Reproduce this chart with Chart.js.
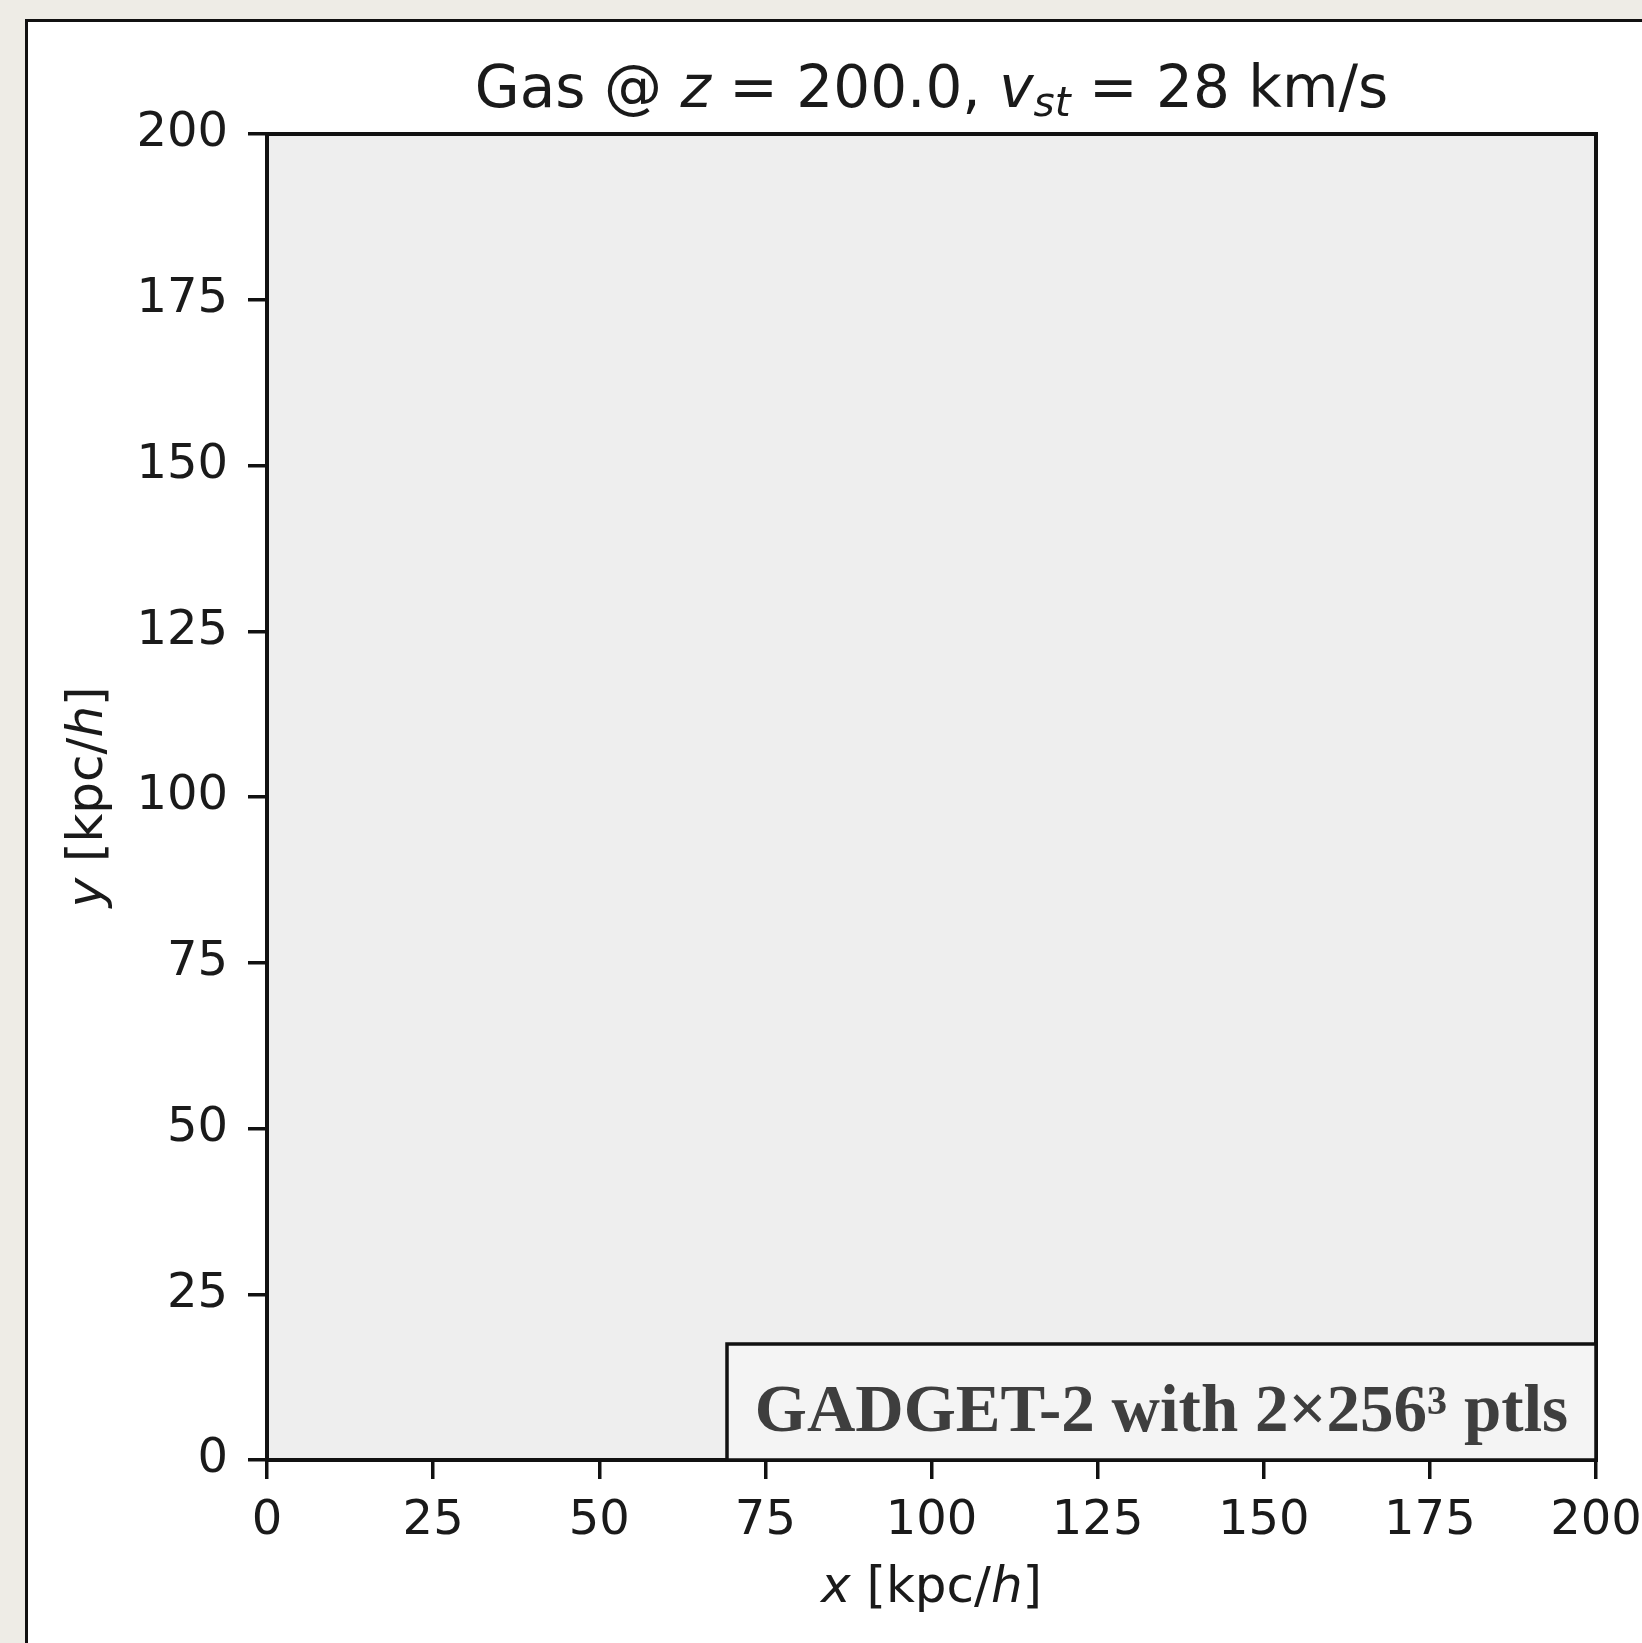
<!DOCTYPE html>
<html><head><meta charset="utf-8">
<script src="https://cdn.jsdelivr.net/npm/chart.js@4.4.1/dist/chart.umd.min.js"></script>
<style>
html,body{margin:0;padding:0;width:1642px;height:1643px;overflow:hidden;background:#eeece6;}
#panel{position:absolute;left:25px;top:19px;width:1700px;height:1700px;background:#fff;border-left:3px solid #111;border-top:3px solid #111;}
#wrap{position:absolute;left:0;top:0;width:1642px;height:1643px;}
</style></head><body>
<div id="panel"></div>
<div id="wrap"><canvas id="c" width="1642" height="1643"></canvas></div>
<script>
// ---- data ----
const xTicks = [0, 25, 50, 75, 100, 125, 150, 175, 200];
const yTicks = [0, 25, 50, 75, 100, 125, 150, 175, 200];
const xRange = [0, 200];
const yRange = [0, 200];
const gasPoints = [];   // the projected gas field is essentially uniform at this redshift
const titleParts = [
  {t: 'Gas @ ', s: ''}, {t: 'z', s: 'italic '}, {t: ' = 200.0, ', s: ''},
  {t: 'v', s: 'italic '}, {t: 'st', s: 'italic ', sub: true}, {t: ' = 28 km/s', s: ''}
];
const xLabelParts = [{t: 'x', s: 'italic '}, {t: ' [kpc/', s: ''}, {t: 'h', s: 'italic '}, {t: ']', s: ''}];
const yLabelParts = [{t: 'y', s: 'italic '}, {t: ' [kpc/', s: ''}, {t: 'h', s: 'italic '}, {t: ']', s: ''}];
const boxText = 'GADGET-2 with 2×256³ ptls';

const FAM = '"DejaVu Sans", sans-serif';
const INK = '#1a1a1a';

function drawRich(ctx, parts, x, y, size) {
  const items = parts.map(p => {
    const fs = p.sub ? size * 0.7 : size;
    const font = p.s + fs + 'px ' + FAM;
    ctx.font = font;
    return {t: p.t, font, w: ctx.measureText(p.t).width, dy: p.sub ? size * 0.15 : 0};
  });
  const total = items.reduce((a, b) => a + b.w, 0);
  let cx = x - total / 2;
  ctx.textAlign = 'left';
  for (const it of items) {
    ctx.font = it.font;
    ctx.fillText(it.t, cx, y + it.dy);
    cx += it.w;
  }
}

const deco = {
  id: 'deco',
  beforeDatasetsDraw(chart) {
    const {ctx, chartArea: a} = chart;
    ctx.save();
    ctx.fillStyle = '#eeeeee';
    ctx.fillRect(a.left, a.top, a.right - a.left, a.bottom - a.top);
    ctx.restore();
  },
  afterDraw(chart) {
    const {ctx, chartArea: a} = chart;
    ctx.save();
    // frame
    ctx.strokeStyle = '#111';
    ctx.lineWidth = 4;
    ctx.strokeRect(a.left, a.top, a.right - a.left, a.bottom - a.top);
    // annotation box
    const bw = 869, bh = 116;
    const bx = a.right - bw, by = a.bottom - bh;
    ctx.fillStyle = '#f4f4f4';
    ctx.fillRect(bx, by, bw, bh);
    ctx.lineWidth = 3.5;
    ctx.strokeRect(bx, by, bw, bh);
    ctx.fillStyle = '#3e3e3e';
    ctx.font = 'bold 67px "Liberation Serif", serif';
    ctx.textAlign = 'center';
    ctx.textBaseline = 'alphabetic';
    ctx.fillText(boxText, bx + bw / 2, a.bottom - 29);
    // title
    ctx.fillStyle = INK;
    ctx.textBaseline = 'alphabetic';
    drawRich(ctx, titleParts, (a.left + a.right) / 2, 107, 58);
    // x label
    ctx.textBaseline = 'middle';
    drawRich(ctx, xLabelParts, (a.left + a.right) / 2, 1589, 50);
    // y label
    ctx.translate(89, (a.top + a.bottom) / 2);
    ctx.rotate(-Math.PI / 2);
    drawRich(ctx, yLabelParts, 0, 0, 50);
    ctx.restore();
  }
};

function axis(range, ticks, isX) {
  return {
    type: 'linear', min: range[0], max: range[1],
    position: isX ? 'bottom' : 'left',
    afterBuildTicks: s => { s.ticks = ticks.map(v => ({value: v})); },
    afterFit: s => {
      if (isX) { s.height = 183; s.paddingLeft = 0; s.paddingRight = 0; }
      else { s.width = 267; s.paddingTop = 0; s.paddingBottom = 0; }
    },
    border: {display: false},
    grid: {display: true, drawOnChartArea: false, drawTicks: true, tickLength: 19,
           tickColor: '#111', tickWidth: 3.5, lineWidth: 3.5, color: '#111'},
    ticks: {color: INK, padding: isX ? 14 : 20, maxRotation: 0, autoSkip: false,
            font: {family: FAM, size: 48}, callback: v => String(v)}
  };
}

new Chart(document.getElementById('c'), {
  type: 'scatter',
  data: {datasets: [{label: 'Gas', data: gasPoints, pointRadius: 0}]},
  options: {
    responsive: false, animation: false,
    layout: {padding: {top: 134, left: 0, right: 46, bottom: 0}},
    plugins: {legend: {display: false}, tooltip: {enabled: false}, title: {display: false}},
    scales: {x: axis(xRange, xTicks, true), y: axis(yRange, yTicks, false)}
  },
  plugins: [deco]
});
</script>
</body></html>
